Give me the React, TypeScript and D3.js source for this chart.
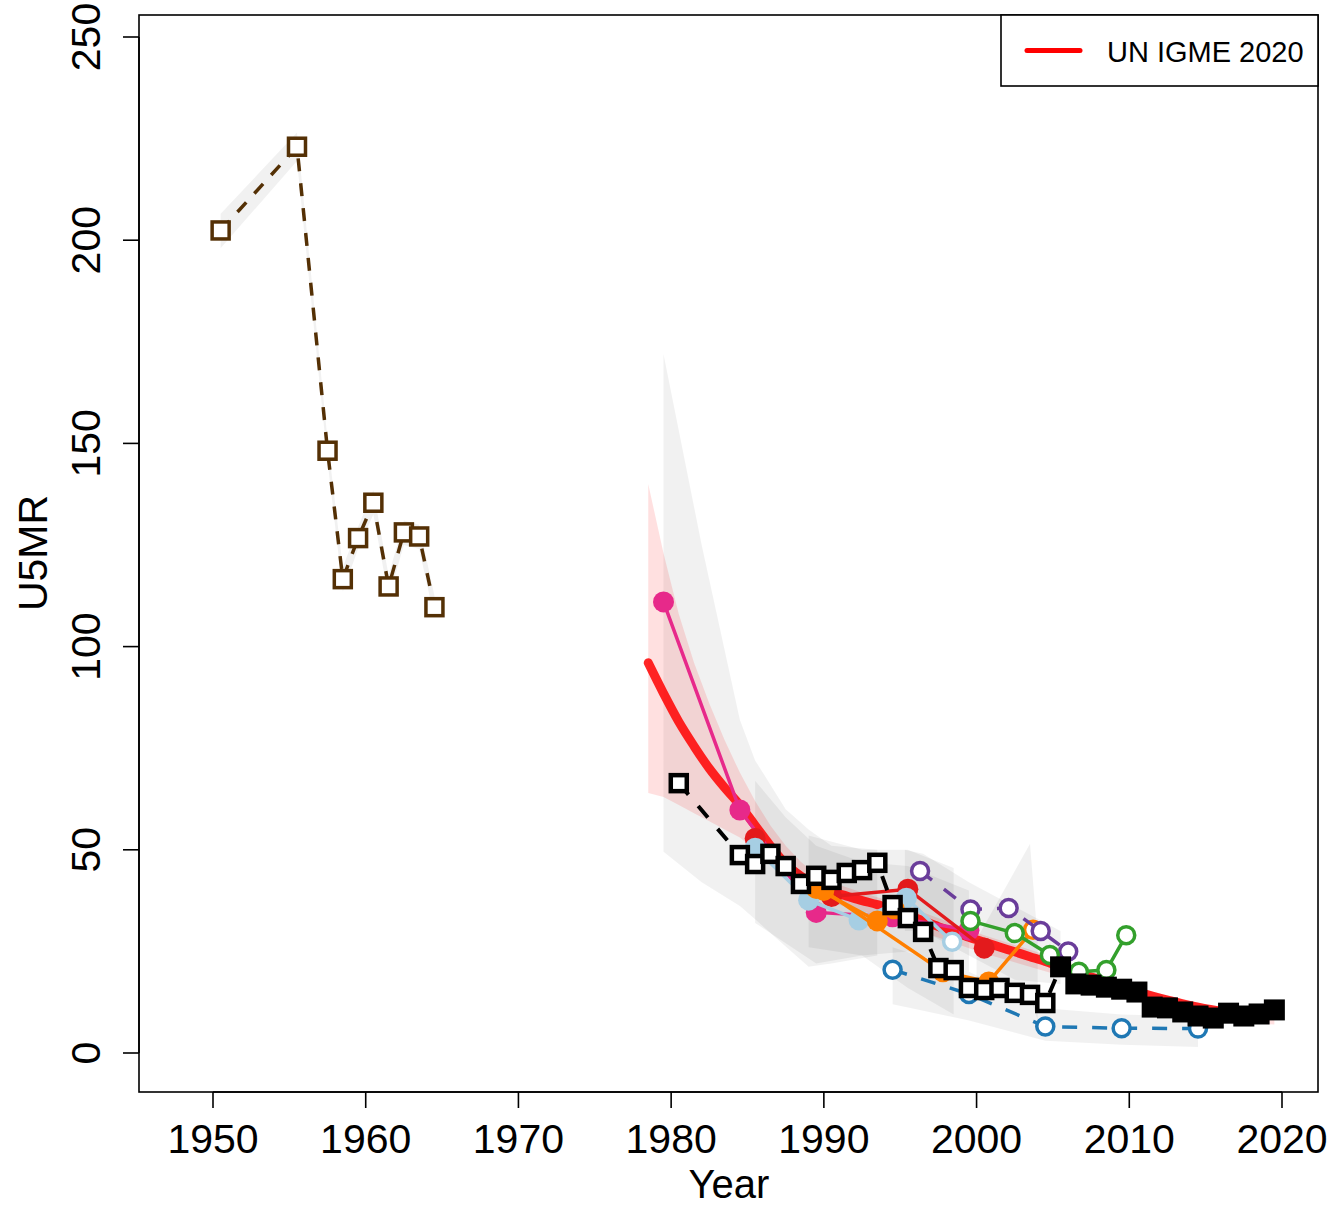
import * as React from 'react';
import * as d3 from 'd3';

// ---- data ----
const igmeYears = d3.range(1978.5, 2020, 1);
const igmeU5MR = [96, 88.5, 81.5, 75.5, 70, 65.3, 61, 56, 51, 46.5, 43.5, 41.2, 39.7, 38.6, 37.5, 36.5, 35.2, 33.9, 32.5, 31.1,
    29.8, 28.5, 27.3, 26.1, 24.9, 23.7, 22.5, 21.2, 20, 18.7, 17.5, 16.3, 15.1, 14, 13, 12.1, 11.3, 10.6, 10.1, 9.7, 9.4, 9.2];
const igmeBandYears = [1978.5, 1979.5, 1980.5, 1981.5, 1982.5, 1983.5, 1984.5, 1985.5, 1986.5, 1987.5, 1988.5, 1989.5, 1990.5, 1992.5, 1995.5, 2000.5, 2005.5, 2010.5, 2015.5, 2019.5];
const igmeUpper = [140, 123, 108, 96, 86, 77, 69, 62, 56, 51, 47, 44, 42, 39.5, 36, 29, 23, 16, 11.5, 10.5];
const igmeLower = [64, 63, 61, 59, 57, 55, 53, 50, 47, 44, 41, 39, 37, 35, 31, 24.5, 19, 13.5, 8, 7];

const brownYears = [1950.5, 1955.5, 1957.5, 1958.5, 1959.5, 1960.5, 1961.5, 1962.5, 1963.5, 1964.5];
const brownU5MR = [202.4, 223.0, 148.2, 116.6, 126.7, 135.4, 114.8, 128.1, 127.1, 109.7];
const brownUpper = [206.5, 226.5, 151, 119.5, 129.5, 138.5, 117.5, 131, 130, 112.5];
const brownLower = [198, 219.5, 145.5, 113.5, 124, 132.5, 112, 125, 124, 107];

const blackOpenYears = [1980.5, 1984.5, 1985.5, 1986.5, 1987.5, 1988.5, 1989.5, 1990.5, 1991.5, 1992.5, 1993.5,
    1994.5, 1995.5, 1996.5, 1997.5, 1998.5, 1999.5, 2000.5, 2001.5, 2002.5, 2003.5, 2004.5];
const blackOpenU5MR = [66.4, 48.7, 46.5, 49.0, 46.0, 41.6, 43.6, 42.6, 44.3, 45.0, 46.8,
    36.4, 33.2, 29.8, 20.9, 20.4, 16.0, 15.5, 16.0, 14.8, 14.3, 12.3];
const blackFilledYears = d3.range(2005.5, 2020, 1);
const blackFilledU5MR = [21.2, 17.0, 16.7, 16.2, 15.7, 15.0, 11.3, 11.1, 10.1, 9.1, 8.6, 9.8, 9.1, 9.6, 10.6];

const pinkYears = [1979.5, 1984.5, 1989.5, 1994.5, 1999.5];
const pinkU5MR = [111, 59.8, 34.6, 33.5, 30.2];
const redYears = [1985.5, 1990.5, 1995.5, 2000.5];
const redU5MR = [52.8, 38.5, 40.3, 25.8];
const lightBlueYears = [1985.5, 1989.0, 1992.3, 1995.4, 1998.4];
const lightBlueU5MR = [50.4, 37.6, 32.7, 38.1, 27.4];
const orangeAYears = [1989.5, 1993.5, 1994.6];
const orangeAU5MR = [40.5, 32.5, 35.5];
const orangeBYears = [1990.0, 1997.8, 2000.8, 2003.7];
const orangeBU5MR = [40, 20, 17.5, 30.3];
const purpleYears = [1996.3, 1999.6, 2002.1, 2004.2, 2006.0];
const purpleU5MR = [44.8, 35.3, 35.7, 30, 25];
const greenYears = [1999.6, 2002.5, 2004.8, 2006.7, 2008.5, 2009.8];
const greenU5MR = [32.5, 29.5, 24.1, 20, 20.4, 29.0];
const blueYears = [1994.5, 1999.5, 2004.5, 2009.5, 2014.5];
const blueU5MR = [20.5, 14.5, 6.5, 6.1, 6.0];

// grey uncertainty bands of the data series
const bandBYears = [1979.5, 1982.0, 1984.5, 1985.5, 1987.5, 1989.0, 1990.5, 1993.5];
const bandBUpper = [172, 125, 82, 72, 60, 55, 51, 50];
const bandBLower = [49.5, 42, 36.2, 32.9, 26.2, 21.2, 22, 24];
const bandCYears = [1985.5, 1987.5, 1989.5, 1992.5, 1995.5, 1999.5];
const bandCUpper = [67, 58, 51, 47, 46, 40];
const bandCLower = [32, 27, 22, 24, 25, 20];
const bandDYears = [1989.0, 1992.5, 1995.5, 1998.5];
const bandDUpper = [53.5, 50, 50, 45.5];
const bandDLower = [26, 24, 16, 9.5];
const bandEYears = [1994.5, 1999.5, 2004.5, 2009.5, 2014.5];
const bandEUpper = [26, 20, 11, 9.5, 9];
const bandELower = [12, 8, 3, 2, 1.5];
const bandFYears = [2000.0, 2003.5, 2004.0];
const bandFUpper = [28, 51.5, 28];
const bandFLower = [16, 14, 8];
const bandGYears = [1995.3, 1996.5, 1999.5, 2002.5, 2005.5];
const bandGUpper = [50, 49, 42, 36, 30];
const bandGLower = [30, 30, 24, 18, 17];

const xTicks = [1950, 1960, 1970, 1980, 1990, 2000, 2010, 2020];
const yTicks = [0, 50, 100, 150, 200, 250];

const font = '"Liberation Sans", Arial, Helvetica, sans-serif';
const frame = { left: 139, right: 1318, top: 15, bottom: 1092 };

type Pt = { x: number, y: number };
const zip = (xs: number[], ys: number[]): Pt[] => xs.map((x, i) => ({ x, y: ys[i] }));

const App = () => {
    const x = d3.scaleLinear().domain([1950, 2020]).range([213, 1282]);
    const y = d3.scaleLinear().domain([0, 250]).range([1053, 37]);

    const line = d3.line<Pt>().x(d => x(d.x)).y(d => y(d.y));
    const smooth = d3.line<Pt>().x(d => x(d.x)).y(d => y(d.y)).curve(d3.curveMonotoneX);
    const area = (yrs: number[], up: number[], lo: number[]) =>
        d3.area<number>().x(d => x(d)).y0((d, i) => y(lo[i])).y1((d, i) => y(up[i]))(yrs) || '';

    const greyBands = [
        [brownYears, brownUpper, brownLower],
        [bandBYears, bandBUpper, bandBLower],
        [bandCYears, bandCUpper, bandCLower],
        [bandDYears, bandDUpper, bandDLower],
        [bandEYears, bandEUpper, bandELower],
        [bandFYears, bandFUpper, bandFLower],
        [bandGYears, bandGUpper, bandGLower],
    ];

    const circleSeries = [
        { pts: zip(pinkYears, pinkU5MR), color: '#e7298a', dash: null, open: [] as number[] },
        { pts: zip(redYears, redU5MR), color: '#e31a1c', dash: null, open: [] },
        { pts: zip(lightBlueYears, lightBlueU5MR), color: '#a6cee3', dash: null, open: [4] },
        { pts: zip(orangeAYears, orangeAU5MR), color: '#ff7f00', dash: null, open: [] },
        { pts: zip(orangeBYears, orangeBU5MR), color: '#ff7f00', dash: null, open: [3] },
        { pts: zip(purpleYears, purpleU5MR), color: '#6a3d9a', dash: '15 15', open: [0, 1, 2, 3, 4] },
        { pts: zip(greenYears, greenU5MR), color: '#33a02c', dash: null, open: [0, 1, 2, 3, 4, 5] },
        { pts: zip(blueYears, blueU5MR), color: '#1f78b4', dash: '15 15', open: [0, 1, 2, 3, 4] },
    ];

    const brown = zip(brownYears, brownU5MR);
    const blackOpen = zip(blackOpenYears, blackOpenU5MR);
    const blackFilled = zip(blackFilledYears, blackFilledU5MR);

    return (
        <svg width={1334} height={1208} style={{ position: 'absolute', left: 0, top: 0, background: '#fff' }}>
            {/* bands */}
            {greyBands.map((b, i) => (
                <path key={'band' + i} d={area(b[0], b[1], b[2])} fill="rgba(0,0,0,0.055)" />
            ))}
            <path d={area(igmeBandYears, igmeUpper, igmeLower)} fill="rgba(255,0,0,0.12)" />

            {/* brown series */}
            <path d={line(brown) || ''} fill="none" stroke="#543005" strokeWidth={3.5} strokeDasharray="13 12" />
            {brown.map((d, i) => (
                <rect key={'br' + i} x={x(d.x) - 8.5} y={y(d.y) - 8.5} width={17} height={17}
                    fill="#fff" stroke="#543005" strokeWidth={3.5} />
            ))}

            {/* UN IGME estimate */}
            <path d={smooth(zip(igmeYears, igmeU5MR)) || ''} fill="none" stroke="#ff0000" strokeOpacity={0.85}
                strokeWidth={9} strokeLinecap="round" strokeLinejoin="round" />

            {/* coloured series */}
            {circleSeries.map((s, si) => (
                <g key={'s' + si}>
                    <path d={line(s.pts) || ''} fill="none" stroke={s.color} strokeWidth={3.5}
                        strokeDasharray={s.dash || undefined} />
                    {s.pts.map((d, i) => s.open.includes(i)
                        ? <circle key={i} cx={x(d.x)} cy={y(d.y)} r={8.5} fill="#fff" stroke={s.color} strokeWidth={3.5} />
                        : <circle key={i} cx={x(d.x)} cy={y(d.y)} r={10.5} fill={s.color} />)}
                </g>
            ))}

            {/* black series */}
            <path d={line(blackOpen.concat(blackFilled.slice(0, 1))) || ''} fill="none" stroke="#000"
                strokeWidth={4} strokeDasharray="15 15" />
            <path d={line(blackFilled) || ''} fill="none" stroke="#000" strokeWidth={4} />
            {blackOpen.map((d, i) => (
                <rect key={'bo' + i} x={x(d.x) - 8} y={y(d.y) - 8} width={16} height={16}
                    fill="#fff" stroke="#000" strokeWidth={4.5} />
            ))}
            {blackFilled.map((d, i) => (
                <rect key={'bf' + i} x={x(d.x) - 10.5} y={y(d.y) - 10.5} width={21} height={21} fill="#000" />
            ))}

            {/* frame and axes */}
            <rect x={frame.left} y={frame.top} width={frame.right - frame.left} height={frame.bottom - frame.top}
                fill="none" stroke="#000" strokeWidth={1.6} />
            <line x1={x(1950)} x2={x(2020)} y1={frame.bottom} y2={frame.bottom} stroke="#000" strokeWidth={1.6} />
            {xTicks.map(t => (
                <g key={'xt' + t}>
                    <line x1={x(t)} x2={x(t)} y1={frame.bottom} y2={frame.bottom + 16} stroke="#000" strokeWidth={1.6} />
                    <text x={x(t)} y={1153} textAnchor="middle" fontFamily={font} fontSize={41}>{t}</text>
                </g>
            ))}
            <line x1={frame.left} x2={frame.left} y1={y(0)} y2={y(250)} stroke="#000" strokeWidth={1.6} />
            {yTicks.map(t => (
                <g key={'yt' + t}>
                    <line x1={frame.left - 16} x2={frame.left} y1={y(t)} y2={y(t)} stroke="#000" strokeWidth={1.6} />
                    <text transform={`translate(100,${y(t)}) rotate(-90)`} textAnchor="middle"
                        fontFamily={font} fontSize={41}>{t}</text>
                </g>
            ))}
            <text x={729} y={1198} textAnchor="middle" fontFamily={font} fontSize={40}>Year</text>
            <text transform={`translate(47,553) rotate(-90)`} textAnchor="middle" fontFamily={font} fontSize={41}>U5MR</text>

            {/* legend */}
            <rect x={1001} y={frame.top} width={frame.right - 1001} height={71} fill="#fff" stroke="#000" strokeWidth={1.6} />
            <line x1={1027} x2={1080} y1={50.5} y2={50.5} stroke="#ff0000" strokeWidth={5} strokeLinecap="round" />
            <text x={1107} y={62} fontFamily={font} fontSize={29}>UN IGME 2020</text>
        </svg>
    );
};

export default App;
